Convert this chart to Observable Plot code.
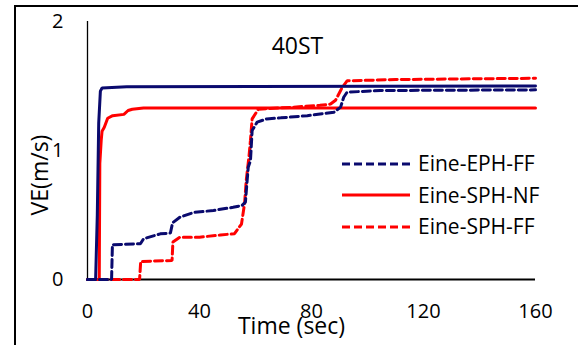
<!DOCTYPE html>
<html>
<head>
<meta charset="utf-8">
<script src="https://cdn.jsdelivr.net/npm/d3@7"></script>
<script src="https://cdn.jsdelivr.net/npm/@observablehq/plot@0.6"></script>
<style>
  body { margin: 0; background: #fff; }
  #wrap { position: relative; width: 579px; height: 345px; overflow: hidden; background: #fff; font-family: "Open Sans", sans-serif; }
  #frame { position: absolute; left: 14px; top: 5px; width: 564px; height: 400px; box-sizing: border-box; border-left: 2px solid #000; border-top: 2px solid #000; pointer-events: none; }
  #legend { position: absolute; left: 342px; top: 148px; }
  .row { display: flex; align-items: center; height: 31.5px; }
  .row svg { margin-right: 8px; }
  .row span { font-size: 21px; color: #000; line-height: 1; }
  #ytitle { position: absolute; left: 39px; top: 175px; transform: translate(-50%, -50%) rotate(-90deg); font-size: 23px; line-height: 1; white-space: nowrap; color: #000; }
</style>
</head>
<body>
<div id="wrap"><div id="frame"></div></div>
<script>
const chartTitle = "40ST";
const xLabel = "Time (sec)";
const yLabel = "VE(m/s)";
const xTicks = [0, 40, 80, 120, 160];
const yTicks = [0, 1, 2];

// [time (sec), VE (m/s)]
const ephNF = [[0,0],[2.9,0],[3.5,0.5],[4,1.21],[4.6,1.46],[5.2,1.485],[14,1.495],[160,1.5]];
const sphNF = [[0,0],[4.2,0],[4.4,0.9],[4.9,1.08],[5.2,1.15],[6,1.18],[7.2,1.25],[9,1.27],[13,1.28],[14.5,1.31],[16,1.32],[20,1.33],[160,1.33]];
const ephFF = [[0,0],[8.6,0],[8.9,0.27],[18.9,0.277],[20,0.315],[26,0.354],[29.6,0.36],[30.4,0.44],[33,0.483],[38,0.52],[45,0.535],[52,0.56],[55.2,0.574],[56.4,0.6],[57.4,0.87],[58.2,0.92],[58.8,1.155],[60.6,1.22],[64,1.245],[69,1.253],[78.5,1.27],[88,1.297],[90.4,1.336],[91.5,1.413],[92.7,1.452],[104.6,1.465],[160,1.47]];
const sphFF = [[0,0],[18.6,0],[19,0.14],[30.2,0.147],[30.5,0.29],[33,0.328],[40,0.328],[47.5,0.345],[52.5,0.355],[54,0.40],[55,0.43],[56.1,0.59],[56.7,0.77],[57.7,0.96],[58.2,1.08],[58.8,1.245],[61,1.32],[73.7,1.336],[83,1.35],[86.8,1.36],[88.6,1.39],[90.4,1.465],[91,1.49],[92.7,1.54],[110,1.55],[160,1.56]];

const navy = "#0a0a6e";
const red = "#ff0000";

const series = [
  {name: "Eine-SPH-NF", data: sphNF, color: red, dash: null, legend: true},
  {name: "Eine-SPH-FF", data: sphFF, color: red, dash: "8,4", legend: true},
  {name: "Eine-EPH-FF", data: ephFF, color: navy, dash: "8,4", legend: true},
  {name: "Eine-EPH-NF", data: ephNF, color: navy, dash: null, legend: false}
];
const legendOrder = ["Eine-EPH-FF", "Eine-SPH-NF", "Eine-SPH-FF"];

const toRows = s => s.data.map(([t, v]) => ({t, v}));

const plot = Plot.plot({
  width: 579,
  height: 345,
  marginLeft: 87,
  marginRight: 44,
  marginTop: 21,
  marginBottom: 66,
  x: {domain: [0, 160]},
  y: {domain: [0, 2]},
  style: {fontFamily: "Open Sans, sans-serif", fontSize: "20px", color: "#000", background: "transparent"},
  marks: [
    Plot.axisX(xTicks, {tickSize: 0, tickPadding: 24, label: null, fontSize: 20, tickFormat: d => String(d)}),
    Plot.axisY(yTicks, {tickSize: 0, tickPadding: 24, label: null, fontSize: 20, tickFormat: d => String(d)}),
    Plot.ruleX([0], {y1: 0, y2: 2, stroke: "#000", strokeWidth: 1.3}),
    Plot.ruleY([0], {stroke: "#000", strokeWidth: 2}),
    ...series.map(s => Plot.line(toRows(s), {
      x: "t", y: "v", stroke: s.color, strokeWidth: 3,
      strokeDasharray: s.dash, strokeLinejoin: "miter"
    })),
    Plot.text([chartTitle], {text: d => d, frameAnchor: "top", dx: -14, dy: 16, lineAnchor: "top", fontSize: 23}),
    Plot.text([xLabel], {text: d => d, frameAnchor: "bottom", dx: -20, dy: 38, lineAnchor: "top", fontSize: 23})
  ]
});

const wrap = document.getElementById("wrap");
plot.style.position = "absolute";
plot.style.left = "0px";
plot.style.top = "0px";
wrap.insertBefore(plot, wrap.firstChild);

const ytitle = document.createElement("div");
ytitle.id = "ytitle";
ytitle.textContent = yLabel;
wrap.appendChild(ytitle);

const legend = document.createElement("div");
legend.id = "legend";
for (const name of legendOrder) {
  const s = series.find(d => d.name === name);
  const row = document.createElement("div");
  row.className = "row";
  const ns = "http://www.w3.org/2000/svg";
  const svg = document.createElementNS(ns, "svg");
  svg.setAttribute("width", 68);
  svg.setAttribute("height", 6);
  const line = document.createElementNS(ns, "line");
  line.setAttribute("x1", 0); line.setAttribute("x2", 68);
  line.setAttribute("y1", 3); line.setAttribute("y2", 3);
  line.setAttribute("stroke", s.color);
  line.setAttribute("stroke-width", 3);
  if (s.dash) line.setAttribute("stroke-dasharray", s.dash);
  svg.appendChild(line);
  const label = document.createElement("span");
  label.textContent = s.name;
  row.appendChild(svg);
  row.appendChild(label);
  legend.appendChild(row);
}
wrap.appendChild(legend);
</script>
</body>
</html>
